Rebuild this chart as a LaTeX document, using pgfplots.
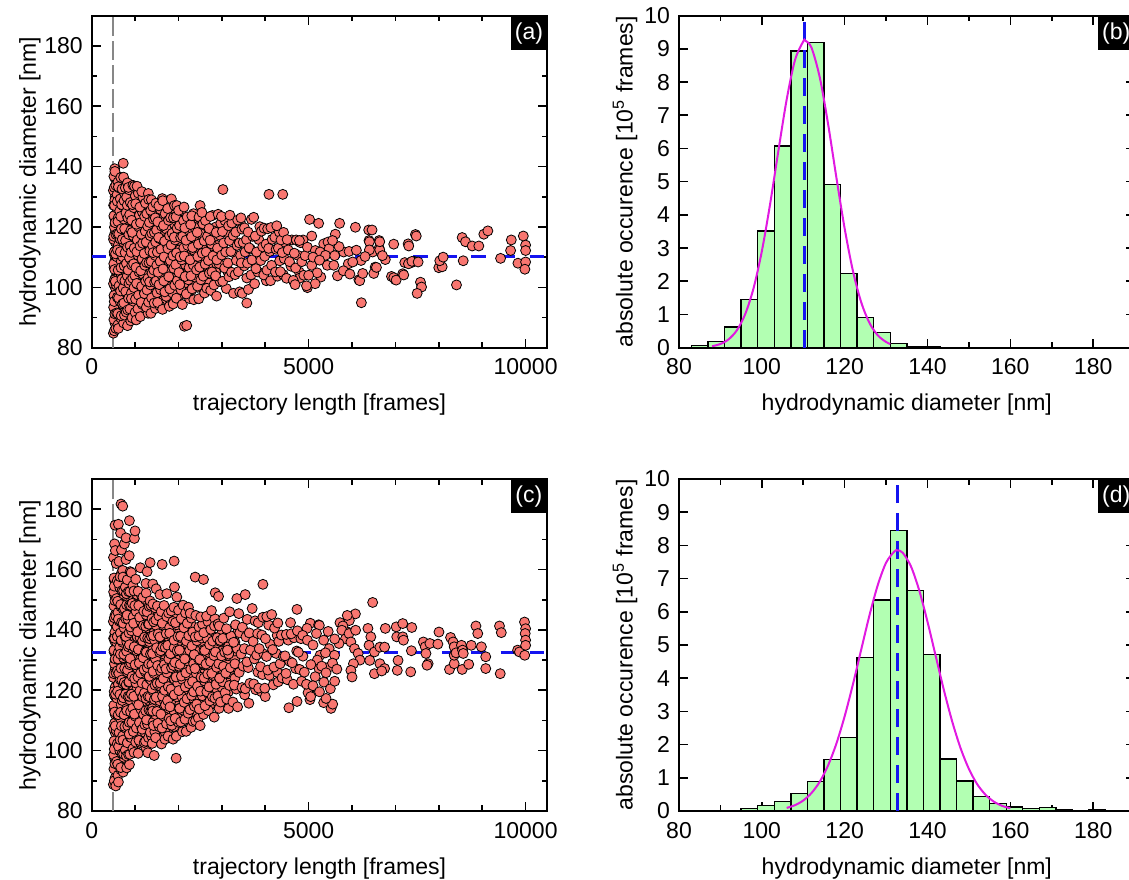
\documentclass[border=0pt]{standalone}
\usepackage{fontspec}
\setmainfont{Liberation Sans}
\usepackage{pgfplots}
\pgfplotsset{compat=1.18}

\definecolor{ptfill}{RGB}{248,118,112}
\definecolor{hgreen}{RGB}{178,255,178}
\definecolor{fitmag}{RGB}{225,25,225}
\definecolor{mblue}{RGB}{20,20,240}
\definecolor{vgray}{RGB}{135,135,135}

\tikzset{tag/.style={fill=black, text=white, anchor=north east, inner sep=0pt,
    minimum width=18pt, minimum height=17pt}}

\pgfplotsset{
  panel/.style={
    scale only axis, width=227.8pt, height=166pt, anchor=south west,
    axis line style={line width=1pt}, tick align=inside,
    every tick/.style={black, line width=0.8pt},
    major tick length=4.5pt, minor tick length=2.8pt,
    font=\fontsize{11.5}{13.8}\selectfont,
    /pgf/number format/assume math mode=true,
    /pgf/number format/1000 sep={},
    xticklabel style={yshift=-2pt}, yticklabel style={xshift=-1pt},
  },
  scat/.style={
    panel, xmin=0, xmax=10500, ymin=80, ymax=190,
    xtick={0,5000,10000}, minor x tick num=4, scaled x ticks=false,
    ytick={80,100,...,180}, minor y tick num=1,
    xlabel={trajectory length [frames]},
    ylabel={hydrodynamic diameter [nm]},
    xlabel style={at={(axis description cs:0.5,-0.1726)}, anchor=center},
    ylabel style={at={(axis description cs:-0.1354,0.5)}, anchor=center},
  },
  hist/.style={
    panel, xmin=80, xmax=190, ymin=0, ymax=10,
    xtick={80,100,...,180}, minor x tick num=1, ytick={0,1,...,10},
    xlabel={hydrodynamic diameter [nm]},
    ylabel={absolute occurence [10\textsuperscript{5} frames]},
    xlabel style={at={(axis description cs:0.5,-0.1726)}, anchor=center},
    ylabel style={at={(axis description cs:-0.1185,0.5)}, anchor=center},
  },
  pts/.style={only marks, mark=*, mark size=2.5pt,
    mark options={fill=ptfill, draw=black, line width=0.4pt}},
  bars/.style={ybar interval, fill=hgreen, draw=black, line width=0.7pt},
  meanline/.style={mblue, line width=1.4pt, dash pattern=on 7.3pt off 7.3pt},
  cutline/.style={vgray, line width=1pt, dash pattern=on 9.5pt off 2.5pt},
  fitline/.style={fitmag, line width=1pt, smooth},
}

\begin{document}
\begin{tikzpicture}

% ---------------- (a) ----------------
\begin{axis}[scat, at={(45.85pt,265.65pt)}]
% inner core (drawn underneath)
\addplot[pts] coordinates {
(540,88)(540,91)(540,94)(540,97)(540,100)(540,103)(540,106)(540,109)(540,112)(540,115)(540,118)(540,121)(540,124)(540,127)(540,130)(540,133)(540,136)
(610,89.5)(610,92.5)(610,95.5)(610,98.5)(610,101.5)(610,104.5)(610,107.5)(610,110.5)(610,113.5)(610,116.5)(610,119.5)(610,122.5)(610,125.5)(610,128.5)(610,131.5)(610,134.5)
(680,90)(680,93)(680,96)(680,99)(680,102)(680,105)(680,108)(680,111)(680,114)(680,117)(680,120)(680,123)(680,126)(680,129)(680,132)(680,135)
(760,90.5)(760,93.5)(760,96.5)(760,99.5)(760,102.5)(760,105.5)(760,108.5)(760,111.5)(760,114.5)(760,117.5)(760,120.5)(760,123.5)(760,126.5)(760,129.5)(760,132.5)
(840,91)(840,94)(840,97)(840,100)(840,103)(840,106)(840,109)(840,112)(840,115)(840,118)(840,121)(840,124)(840,127)(840,130)(840,133)
(930,92)(930,95)(930,98)(930,101)(930,104)(930,107)(930,110)(930,113)(930,116)(930,119)(930,122)(930,125)(930,128)(930,131)
(1030,92.5)(1030,95.5)(1030,98.5)(1030,101.5)(1030,104.5)(1030,107.5)(1030,110.5)(1030,113.5)(1030,116.5)(1030,119.5)(1030,122.5)(1030,125.5)(1030,128.5)(1030,131.5)
(1130,93)(1130,96)(1130,99)(1130,102)(1130,105)(1130,108)(1130,111)(1130,114)(1130,117)(1130,120)(1130,123)(1130,126)(1130,129)
(1230,94)(1230,97)(1230,100)(1230,103)(1230,106)(1230,109)(1230,112)(1230,115)(1230,118)(1230,121)(1230,124)(1230,127)
(1330,94.5)(1330,97.5)(1330,100.5)(1330,103.5)(1330,106.5)(1330,109.5)(1330,112.5)(1330,115.5)(1330,118.5)(1330,121.5)(1330,124.5)(1330,127.5)
(1430,95)(1430,98)(1430,101)(1430,104)(1430,107)(1430,110)(1430,113)(1430,116)(1430,119)(1430,122)(1430,125)
(1540,95.5)(1540,98.5)(1540,101.5)(1540,104.5)(1540,107.5)(1540,110.5)(1540,113.5)(1540,116.5)(1540,119.5)(1540,122.5)(1540,125.5)
(1660,96)(1660,99)(1660,102)(1660,105)(1660,108)(1660,111)(1660,114)(1660,117)(1660,120)(1660,123)(1660,126)
(1780,96.5)(1780,99.5)(1780,102.5)(1780,105.5)(1780,108.5)(1780,111.5)(1780,114.5)(1780,117.5)(1780,120.5)(1780,123.5)(1780,126)
(1900,97)(1900,100)(1900,103)(1900,106)(1900,109)(1900,112)(1900,115)(1900,118)(1900,121)(1900,124)
(2030,97.5)(2030,100.5)(2030,103.5)(2030,106.5)(2030,109.5)(2030,112.5)(2030,115.5)(2030,118.5)(2030,121.5)(2030,124)
(2160,98.5)(2160,101.5)(2160,104.5)(2160,107.5)(2160,110.5)(2160,113.5)(2160,116.5)(2160,119.5)(2160,122.5)
(2300,99)(2300,102)(2300,105)(2300,108)(2300,111)(2300,114)(2300,117)(2300,120)(2300,122.5)
(2440,100)(2440,103)(2440,106)(2440,109)(2440,112)(2440,115)(2440,118)(2440,121)
(2580,101)(2580,104)(2580,107)(2580,110)(2580,113)(2580,116)(2580,119)(2580,121.5)
(2720,101.5)(2720,104.5)(2720,107.5)(2720,110.5)(2720,113.5)(2720,116.5)(2720,119.5)
(2860,102)(2860,105)(2860,108)(2860,111)(2860,114)(2860,117)(2860,120)
};
\addplot[pts] coordinates {
(500,84.8)(521,85.6)(512,89.3)(530,92.6)(506,93.4)(521,96.8)(515,97.3)(503,101.2)(527,102.5)(515,106.6)(509,107.8)(524,110.8)(518,111.7)(503,115.9)(509,116.9)(524,119.9)(518,123.3)(512,123.7)(506,127.2)(533,128.9)(500,132.1)(521,133.1)(512,136.8)(530,139.3)
(555,86.4)(605,87.6)(535,91.2)(575,91.5)(520,95.3)(590,96.7)(565,100.8)(545,102)(600,105)(530,105.9)(580,110.1)(550,111.1)(615,114)(560,117.5)(595,117.8)(540,121.4)(610,123)(570,126.3)(525,127.1)(585,130.7)(555,133.8)(605,134.9)(535,138.4)
(615,86.4)(670,89.8)(600,91.3)(650,95.4)(620,96.5)(685,99.6)(630,100.5)(665,104.7)(610,105.7)(680,108.6)(640,112.1)(595,112.4)(655,116)(625,117.7)(675,120.9)(605,121.8)(645,125.3)(590,128.5)(660,129.3)(635,132.9)(615,133.3)(670,136.4)
(735,88.2)(680,90.6)(750,93.7)(710,94.5)(665,98.8)(725,99.8)(695,102.7)(745,106.2)(675,106.5)(715,110.1)(660,111.8)(730,115)(705,115.9)(685,119.4)(740,122.6)(670,123.5)(720,127)(690,127.4)(755,131.2)(700,132.6)(735,136.5)(727,141.1)
(825,87.3)(755,90.8)(795,91.8)(740,94.8)(810,98.2)(785,98.6)(765,102.2)(820,103.8)(750,107.1)(800,107.9)(770,111.5)(835,114.7)(780,115.5)(815,119.1)(760,119.4)(830,123.2)(790,124.7)(745,128.7)(805,129.9)(775,133)(825,134.6)
(900,88.9)(830,92.5)(880,92.8)(850,96.4)(915,98.1)(860,101.3)(895,102.2)(840,105.7)(910,108.9)(870,109.8)(825,113.3)(885,113.7)(855,117.5)(905,118.9)(835,123)(875,124.1)(820,127.2)(890,128.1)(865,132.3)(845,133.1)
(930,89.9)(1000,91.7)(960,95.4)(915,96.3)(975,99.9)(945,103)(995,103.9)(925,107.4)(965,107.8)(910,111.6)(980,113)(955,117.1)(935,118.2)(990,121.3)(920,122.2)(970,126.4)(940,127.4)(1005,130.3)(950,133.8)(985,133.5)
(1025,89.2)(1065,92.9)(1010,96.1)(1080,97.4)(1055,101)(1035,101.3)(1090,105.1)(1020,106.6)(1070,110.6)(1040,111.8)(1105,114.8)(1050,115.7)(1085,120)(1030,120.9)(1100,123.9)(1060,127.3)(1015,127.7)(1075,131.2)(1045,133.5)
(1120,90.3)(1170,94.3)(1140,95)(1205,98.8)(1150,100.3)(1185,104.3)(1130,105.5)(1200,108.6)(1160,109.4)(1115,113.7)(1175,114.6)(1145,117.6)(1195,121.1)(1125,121.4)(1165,125)(1110,126.6)(1180,129.9)(1155,131.7)
(1300,91.4)(1260,93.4)(1215,97.9)(1275,99.1)(1245,102.1)(1295,103)(1225,107.3)(1265,108.2)(1210,111.2)(1280,114.7)(1255,115)(1235,118.6)(1290,120.2)(1220,123.5)(1270,124.4)(1240,127.9)(1305,131.1)
(1365,91.4)(1310,95.1)(1380,96.5)(1355,100.8)(1335,101.8)(1390,104.7)(1320,108.2)(1370,108.6)(1340,112.1)(1405,113.8)(1350,117.1)(1385,117.9)(1330,121.5)(1400,124.6)(1360,125.5)(1315,129.1)(1375,129)
(1470,93)(1440,94.8)(1505,98.2)(1450,101.7)(1485,102.1)(1430,105.7)(1500,107.3)(1460,110.6)(1415,111.5)(1475,115)(1445,118.2)(1495,119)(1425,122.6)(1465,123)(1410,126.7)(1480,127.9)
(1572,93.8)(1518,95)(1590,99.2)(1554,100.9)(1614,104.1)(1530,105)(1578,108.6)(1512,111.7)(1596,112.6)(1566,116.1)(1542,116.5)(1608,120.3)(1524,121.7)(1584,125.8)(1548,127)(1626,129.4)
(1632,92.7)(1716,97)(1686,98.5)(1662,102.1)(1728,105.3)(1644,106.1)(1704,109.7)(1668,110.1)(1746,113.8)(1680,115.3)(1722,119.3)(1656,120.5)(1740,123.6)(1692,124.4)(1638,128.7)
(1788,93.7)(1866,98.1)(1800,99.5)(1842,103.1)(1776,103.5)(1860,107.3)(1812,108.8)(1758,112.8)(1830,114)(1794,117.1)(1854,117.9)(1770,122.2)(1818,123.1)(1752,126.1)(1836,129.3)
(1878,94.5)(1950,96.4)(1914,100.7)(1974,102.2)(1890,106.3)(1938,107.5)(1872,110.5)(1956,111.4)(1926,115.7)(1902,116.6)(1968,119.6)(1884,123.1)(1944,123.4)(1908,127.1)(1963,127.1)
(2089,94.3)(2057,99.2)(2030,100.9)(2102,104)(2011,104.9)(2076,109.1)(2037,110.1)(2122,113.1)(2050,116.5)(2096,116.9)(2024,120.5)(2115,122.1)(2063,125.4)(2004,125.5)
(2136,87.1)(2190,87.4)
(2252,96.3)(2180,97.8)(2226,102.5)(2154,103.6)(2245,106.5)(2193,110)(2134,110.4)(2213,113.9)(2173,115.6)(2239,118.9)(2147,119.7)(2200,123.3)(2128,126.6)
(2353,95.9)(2313,99.5)(2379,103.4)(2287,103.8)(2340,107.4)(2268,109.1)(2359,112.3)(2327,113.2)(2300,116.8)(2372,119.9)(2281,120.8)(2346,124.4)(2307,123.7)
(2467,96.2)(2439,100.4)(2516,102.5)(2418,105.8)(2488,106.7)(2446,110.2)(2537,113.4)(2460,114.3)(2509,117.8)(2432,118.2)(2530,122)(2474,123.3)(2498,127.1)
(2600,98.1)(2652,99.7)(2570,103.7)(2675,106.9)(2615,107.7)(2548,111.3)(2638,111.7)(2592,115.4)(2668,116.9)(2562,121)(2622,122.1)(2540,124.8)
(2742,99)(2818,100.8)(2712,104.7)(2772,105.1)(2690,108.9)(2795,110.4)(2758,114.4)(2728,115.6)(2810,118.7)(2705,119.5)(2780,123.8)(2735,123.5)
(2878,97.1)(2960,101.9)(2855,103.8)(2930,107.9)(2885,109.1)(2982,112.1)(2900,113)(2952,117.3)(2870,118.2)(2975,121.2)(2915,124.2)
(3102,99.6)(3020,102)(3125,105.5)(3065,106.4)(2998,110.7)(3088,111.7)(3042,114.7)(3118,118.1)(3012,118.5)(3072,122.1)(2990,123.5)(3024,132.4)
(3268,98)(3162,103.5)(3222,105)(3140,108.1)(3245,111.6)(3208,111.9)(3178,115.5)(3260,117.2)(3155,120.4)(3230,121.3)(3185,123.9)
(3410,98.5)(3305,104.2)(3380,105.2)(3335,108.9)(3432,110.6)(3350,113.9)(3402,114.7)(3320,118.3)(3425,121.5)(3365,122.3)
(3470,98)(3575,103.1)(3515,107.1)(3448,108.1)(3538,111.7)(3492,114.9)(3568,115.8)(3462,119.3)(3522,119.7)(3440,123)(3575,94.8)
(3612,99.3)(3672,104.1)(3590,108)(3695,109.1)(3658,112.7)(3628,113.1)(3710,116.9)(3605,118.3)(3680,122.5)
(3755,101.2)(3830,105.1)(3785,106.2)(3882,110.2)(3800,111.7)(3852,115.8)(3770,117)(3875,120.1)(3734,123.2)
(4025,102.2)(3965,104.1)(3898,108.9)(3988,110.3)(3942,113.4)(4018,114.3)(3912,118.6)(3972,119.6)
(4122,102.2)(4040,105.7)(4145,107.3)(4108,111.9)(4078,112.9)(4160,115.9)(4055,119.4)(4130,119.8)(4085,130.8)
(4280,103.7)(4235,105.1)(4332,108.8)(4250,112.6)(4302,113)(4220,116.6)(4325,118.3)(4265,120.4)
(4415,104.2)(4348,105.2)(4438,109.5)(4392,111.5)(4468,114.8)(4362,115.7)(4422,118.2)(4403,130.8)
(4490,103)(4595,107)(4558,108.5)(4528,112.4)(4610,115.7)(4505,115.8)
(4685,101.2)(4782,105.1)(4700,106.4)(4752,110.6)(4670,111.3)(4775,115.2)(4715,115.7)
(4798,103.1)(4888,104)(4842,108.5)(4918,110.5)(4812,114.8)(4872,115.7)
(5021,122.5)(5230,121.2)(5714,121.2)(6077,119.9)(6384,119)(6461,119)(5615,117.6)(6625,115.5)(6391,115.5)(6625,113)(6207,108.9)(6474,111.7)(6533,106.7)(6767,109.2)(6961,114.3)(6909,103.6)(6992,102.6)(7168,104.5)(6215,94.9)(6157,102.5)(5664,103.8)(5280,103.4)(4971,99.9)(5071,107.3)(5196,104.8)(5430,107.3)(5580,107.3)(5915,107.8)(5806,111.7)(5931,111.9)(6015,108.4)(7293,114.4)(7461,117.5)(7480,117)(7435,108.6)(7352,108.1)(7577,101.7)(7602,100.1)(7500,98)(7999,106.5)(8077,106.8)(8022,108.8)(8100,110)(8407,100.8)(8562,108.8)(8538,116.5)(8615,115.1)(8769,113.7)(8922,113.7)(9037,117.6)(9130,118.7)(9423,109.6)(9670,115.7)(9654,112.2)(9947,117)(10000,114)(10000,112.2)(9823,108)(10000,108.4)(9983,106)(7307,113.7)(7215,108.2)(7300,107.8)(7380,108.6)(7523,108.4)(6961,103.2)(7016,102.4)(7192,104.1)(6177,102.2)(6246,104.6)(6500,104.6)(6562,106.6)(6638,112.4)(6638,115.1)(6400,115.1)(6400,112.4)(5071,117)(4787,115.5)(4971,113.3)(5154,112.2)(5347,114.4)(5447,115)(5472,112.8)(5263,111.7)(5388,110.6)(5100,110)(5250,109)(5600,110.5)(5700,113.5)(5550,115.5)(6100,112.3)(6300,110.2)(5800,105.5)(5950,104.4)(6700,110.5)(5000,104)(5150,101.2)(4950,100.5)(4645,102.3)(4687,100.9)
};
\addplot[cutline] coordinates {(500,80) (500,190)};
\addplot[meanline] coordinates {(0,110.2) (10500,110.2)};
\node[tag] at (rel axis cs:1,1) {(a)};
\end{axis}

% ---------------- (b) ----------------
\begin{axis}[hist, at={(339.5pt,265.65pt)}]
\addplot[bars] coordinates {(83,0.07) (87,0.19) (91,0.62) (95,1.46) (99,3.52) (103,6.08) (107,8.94) (111,9.19) (115,4.92) (119,2.24) (123,0.91) (127,0.46) (131,0.12) (135,0.04) (139,0.02) (143,0.02)};
\addplot[meanline, dash pattern=on 9pt off 5pt] coordinates {(110.3,0) (110.3,10)};
\addplot[fitline] coordinates {(88,0.045) (90,0.112) (92,0.254) (94,0.530) (96,1.017) (98,1.793) (100,2.906) (102,4.331) (104,5.936) (106,7.478) (108,8.663) (110,9.226) (110.5,9.25) (112,9.034) (114,8.134) (116,6.732) (118,5.124) (120,3.585) (122,2.307) (124,1.364) (126,0.742) (128,0.371) (130,0.171) (131,0.112)};
\node[tag] at (rel axis cs:1,1) {(b)};
\end{axis}

% ---------------- (c) ----------------
\begin{axis}[scat, at={(45.85pt,34pt)}]
% inner core (drawn underneath)
\addplot[pts] coordinates {
(540,91)(540,94)(540,97)(540,100)(540,103)(540,106)(540,109)(540,112)(540,115)(540,118)(540,121)(540,124)(540,127)(540,130)(540,133)(540,136)(540,139)(540,142)(540,145)(540,148)(540,151)(540,154)(540,157)
(610,92.5)(610,95.5)(610,98.5)(610,101.5)(610,104.5)(610,107.5)(610,110.5)(610,113.5)(610,116.5)(610,119.5)(610,122.5)(610,125.5)(610,128.5)(610,131.5)(610,134.5)(610,137.5)(610,140.5)(610,143.5)(610,146.5)(610,149.5)(610,152.5)(610,155.5)
(680,94)(680,97)(680,100)(680,103)(680,106)(680,109)(680,112)(680,115)(680,118)(680,121)(680,124)(680,127)(680,130)(680,133)(680,136)(680,139)(680,142)(680,145)(680,148)(680,151)(680,154)(680,157)
(760,97.5)(760,100.5)(760,103.5)(760,106.5)(760,109.5)(760,112.5)(760,115.5)(760,118.5)(760,121.5)(760,124.5)(760,127.5)(760,130.5)(760,133.5)(760,136.5)(760,139.5)(760,142.5)(760,145.5)(760,148.5)(760,151.5)(760,154.5)
(840,99)(840,102)(840,105)(840,108)(840,111)(840,114)(840,117)(840,120)(840,123)(840,126)(840,129)(840,132)(840,135)(840,138)(840,141)(840,144)(840,147)(840,150)(840,153)
(930,100.5)(930,103.5)(930,106.5)(930,109.5)(930,112.5)(930,115.5)(930,118.5)(930,121.5)(930,124.5)(930,127.5)(930,130.5)(930,133.5)(930,136.5)(930,139.5)(930,142.5)(930,145.5)(930,148.5)(930,151.5)
(1030,102)(1030,105)(1030,108)(1030,111)(1030,114)(1030,117)(1030,120)(1030,123)(1030,126)(1030,129)(1030,132)(1030,135)(1030,138)(1030,141)(1030,144)(1030,147)(1030,150)
(1130,103.5)(1130,106.5)(1130,109.5)(1130,112.5)(1130,115.5)(1130,118.5)(1130,121.5)(1130,124.5)(1130,127.5)(1130,130.5)(1130,133.5)(1130,136.5)(1130,139.5)(1130,142.5)(1130,145.5)(1130,148.5)
(1230,103)(1230,106)(1230,109)(1230,112)(1230,115)(1230,118)(1230,121)(1230,124)(1230,127)(1230,130)(1230,133)(1230,136)(1230,139)(1230,142)(1230,145)(1230,148)
(1330,104.5)(1330,107.5)(1330,110.5)(1330,113.5)(1330,116.5)(1330,119.5)(1330,122.5)(1330,125.5)(1330,128.5)(1330,131.5)(1330,134.5)(1330,137.5)(1330,140.5)(1330,143.5)(1330,146.5)
(1430,106)(1430,109)(1430,112)(1430,115)(1430,118)(1430,121)(1430,124)(1430,127)(1430,130)(1430,133)(1430,136)(1430,139)(1430,142)(1430,145)
(1540,106.5)(1540,109.5)(1540,112.5)(1540,115.5)(1540,118.5)(1540,121.5)(1540,124.5)(1540,127.5)(1540,130.5)(1540,133.5)(1540,136.5)(1540,139.5)(1540,142.5)(1540,145.5)
(1660,105)(1660,108)(1660,111)(1660,114)(1660,117)(1660,120)(1660,123)(1660,126)(1660,129)(1660,132)(1660,135)(1660,138)(1660,141)(1660,144)
(1780,107.5)(1780,110.5)(1780,113.5)(1780,116.5)(1780,119.5)(1780,122.5)(1780,125.5)(1780,128.5)(1780,131.5)(1780,134.5)(1780,137.5)(1780,140.5)(1780,143.5)
(1900,108)(1900,111)(1900,114)(1900,117)(1900,120)(1900,123)(1900,126)(1900,129)(1900,132)(1900,135)(1900,138)(1900,141)(1900,144)
(2030,109.5)(2030,112.5)(2030,115.5)(2030,118.5)(2030,121.5)(2030,124.5)(2030,127.5)(2030,130.5)(2030,133.5)(2030,136.5)(2030,139.5)(2030,142.5)
(2160,110)(2160,113)(2160,116)(2160,119)(2160,122)(2160,125)(2160,128)(2160,131)(2160,134)(2160,137)(2160,140)(2160,143)
(2300,111.5)(2300,114.5)(2300,117.5)(2300,120.5)(2300,123.5)(2300,126.5)(2300,129.5)(2300,132.5)(2300,135.5)(2300,138.5)(2300,141.5)
(2440,112)(2440,115)(2440,118)(2440,121)(2440,124)(2440,127)(2440,130)(2440,133)(2440,136)(2440,139)
(2580,113.5)(2580,116.5)(2580,119.5)(2580,122.5)(2580,125.5)(2580,128.5)(2580,131.5)(2580,134.5)(2580,137.5)(2580,140.5)
(2720,115)(2720,118)(2720,121)(2720,124)(2720,127)(2720,130)(2720,133)(2720,136)(2720,139)
(2860,116.5)(2860,119.5)(2860,122.5)(2860,125.5)(2860,128.5)(2860,131.5)(2860,134.5)(2860,137.5)
(3000,118)(3000,121)(3000,124)(3000,127)(3000,130)(3000,133)(3000,136)(3000,139)
(3150,119.5)(3150,122.5)(3150,125.5)(3150,128.5)(3150,131.5)(3150,134.5)(3150,137.5)
(3300,121)(3300,124)(3300,127)(3300,130)(3300,133)(3300,136)
};
\addplot[pts] coordinates {
(500,88.8)(521,90)(512,93.9)(530,97.4)(506,98.6)(521,102.5)(515,103.2)(503,107.3)(527,109.1)(515,113.5)(509,115)(524,118.4)(518,119.6)(503,124.2)(509,125.5)(524,128.8)(518,132.6)(512,133.3)(506,137.2)(533,139.2)(500,142.8)(521,144)(512,147.9)(530,151.4)(506,152.6)(521,156.5)(515,157.2)(503,164)(527,168.5)(538,174.7)
(555,88.3)(605,91.8)(535,95.7)(575,96.4)(520,100.5)(590,102.3)(565,106.7)(545,108.2)(600,111.6)(530,112.8)(580,117.4)(550,118.7)(615,122)(560,125.8)(595,126.5)(540,130.4)(610,132.4)(570,136)(525,137.2)(585,141.1)(555,144.6)(605,145.8)(535,149.7)(575,150.4)(520,154.5)(590,156.3)(565,162)(545,166.3)(615,175)
(615,89.6)(670,93.7)(600,95.5)(650,99.9)(620,101.4)(685,104.8)(630,106)(665,110.6)(610,111.9)(680,115.2)(640,119)(595,119.7)(655,123.6)(625,125.6)(675,129.2)(605,130.4)(645,134.3)(590,137.8)(660,139)(635,142.9)(615,143.6)(670,147.7)(600,149.5)(650,153.9)(620,155.4)(685,158.8)(630,162.7)(665,172.1)
(725,92.9)(670,94.4)(740,97.8)(700,99)(655,103.6)(715,104.9)(685,108.2)(735,112)(665,112.7)(705,116.6)(650,118.6)(720,122.2)(695,123.4)(675,127.3)(730,130.8)(660,132)(710,135.9)(680,136.6)(745,140.7)(690,142.5)(725,146.9)(670,148.4)(740,151.8)(700,153)(655,157.6)(715,159.7)(685,166.5)(676,181.7)(715,181)
(805,94.3)(735,98.9)(775,100.2)(720,103.5)(790,107.3)(765,108)(745,111.9)(800,113.9)(730,117.5)(780,118.7)(750,122.6)(815,126.1)(760,127.3)(795,131.2)(740,131.9)(810,136)(770,137.8)(725,142.2)(785,143.7)(755,147.1)(805,148.3)(735,152.9)(775,154.2)(720,157.5)(790,163.3)(754,168.5)(792,170.5)
(870,95.4)(800,98.2)(850,98.7)(820,102.6)(885,104.6)(830,108.2)(865,109.4)(810,113.3)(880,116.8)(840,118)(795,121.9)(855,122.6)(825,126.7)(875,128.5)(805,132.9)(845,134.4)(790,137.8)(860,139)(835,143.6)(815,144.9)(870,148.2)(800,152)(850,152.7)(820,156.6)(885,159.3)(869,176.2)
(880,98.8)(950,100.7)(910,104.3)(865,105.5)(925,109.4)(895,112.9)(945,114.1)(875,118)(915,118.7)(860,122.8)(930,124.6)(905,129)(885,130.5)(940,133.9)(870,135.1)(920,139.7)(890,141)(955,144.3)(900,148.1)(935,148.8)(880,152.7)(950,154.7)(910,159)(865,164.6)
(975,99.4)(1015,102.8)(960,106.3)(1030,107.5)(1005,111.4)(985,112.1)(1040,116.2)(970,118)(1020,122.4)(990,123.9)(1055,127.3)(1000,128.5)(1035,133.1)(980,134.4)(1050,137.7)(1010,141.5)(965,142.2)(1025,146.1)(995,148.1)(1045,151.7)(975,152.9)(1015,156.8)(984,170.3)(999,172.8)
(1070,99.1)(1120,102.7)(1090,103.4)(1155,107.5)(1100,109.3)(1135,113.7)(1080,115.2)(1150,118.6)(1110,119.8)(1065,124.4)(1125,125.7)(1095,129)(1145,132.8)(1075,133.5)(1115,137.4)(1060,139.4)(1130,143)(1105,144.2)(1085,148.1)(1140,151.6)(1070,152.8)(1120,160.6)
(1250,101)(1210,102.7)(1165,107.1)(1225,108.6)(1195,112)(1245,113.2)(1175,117.8)(1215,119.1)(1160,122.4)(1230,126.2)(1205,126.9)(1185,130.8)(1240,132.8)(1170,136.4)(1220,137.6)(1190,141.5)(1255,145)(1200,146.2)(1235,150.1)(1180,150.8)(1250,155.4)
(1295,99.3)(1240,103.1)(1310,104.3)(1285,108.9)(1265,110.2)(1320,113.5)(1250,117.3)(1300,118)(1270,121.9)(1335,123.9)(1280,127.5)(1315,128.7)(1260,132.6)(1330,136.1)(1290,137.3)(1245,141.2)(1305,141.9)(1275,146)(1325,147.8)(1255,152.2)(1277,159.3)
(1380,104.8)(1350,106.1)(1415,109.4)(1360,113.2)(1395,113.9)(1340,117.8)(1410,119.8)(1370,123.4)(1325,124.6)(1385,128.5)(1355,132)(1405,133.2)(1335,137.1)(1375,137.8)(1320,141.9)(1390,143.7)(1365,148.1)(1345,149.6)(1346,162.3)
(1440,98.4)(1395,102.4)(1455,106.3)(1425,108.3)(1475,111.9)(1405,113.1)(1445,117)(1390,120.5)(1460,121.7)(1435,125.6)(1415,126.3)(1470,130.4)(1400,132.2)(1450,136.6)(1420,138.1)(1485,141.5)(1430,142.7)(1465,147.3)(1410,148.6)(1408,155.2)(1485,153.6)
(1472,104.3)(1556,107.9)(1526,109.1)(1502,113)(1568,116.5)(1484,117.7)(1544,121.6)(1508,122.3)(1586,126.4)(1520,128.2)(1562,132.6)(1496,134.1)(1580,137.5)(1532,138.7)(1478,143.3)(1550,144.6)(1514,147.9)(1574,151.7)
(1608,102.2)(1686,106.3)(1620,107.5)(1662,111.4)(1596,112.1)(1680,116.2)(1632,118)(1578,122.4)(1650,123.9)(1614,127.3)(1674,128.5)(1590,133.1)(1638,134.4)(1572,137.7)(1656,141.5)(1626,142.2)(1602,146.1)(1668,148.1)(1623,161.7)
(1688,103.8)(1760,104.8)(1724,108.9)(1784,110.7)(1700,115.1)(1748,116.6)(1682,120)(1766,121.2)(1736,125.8)(1712,127.1)(1778,130.4)(1694,134.2)(1754,134.9)(1718,138.8)(1796,140.8)(1730,144.4)(1772,145.6)(1731,152)
(1876,103.8)(1846,108.4)(1822,109.9)(1888,113.3)(1804,114.5)(1864,119.1)(1828,120.4)(1906,123.7)(1840,127.5)(1882,128.2)(1816,132.1)(1900,134.1)(1852,137.7)(1798,138.9)(1870,142.8)(1834,146.3)(1894,147.5)
(1946,97.5)(1950,104.8)(1996,109.4)(1924,110.7)(2015,114)(1963,117.8)(1904,118.5)(1983,122.4)(1943,124.4)(2009,128)(1917,129.2)(1970,133.1)(1898,136.6)(1989,137.8)(1957,141.7)(1930,142.4)(2002,146.5)(1962,150.9)(1908,154.2)(1900,162.8)
(2093,106.3)(2053,109.5)(2119,113.3)(2027,114)(2080,117.9)(2008,119.9)(2099,123.5)(2067,124.7)(2040,128.6)(2112,132.1)(2021,133.3)(2086,137.2)(2047,137.9)(2132,142)(2060,143.8)(2106,148.2)
(2177,106.4)(2150,110.4)(2222,112.4)(2131,116)(2196,117.2)(2157,121.1)(2242,124.6)(2170,125.8)(2216,129.7)(2144,130.4)(2235,134.5)(2183,136.3)(2124,140.7)(2203,142.2)(2163,145.6)(2229,147.5)
(2290,107.7)(2336,109.7)(2264,113.6)(2355,117.1)(2303,118.3)(2244,122.2)(2323,122.9)(2283,127)(2349,128.8)(2257,133.2)(2310,134.7)(2238,138.1)(2329,139.3)(2297,143.9)(2270,145.5)
(2393,109.9)(2459,110.8)(2367,114.7)(2420,115.4)(2348,119.5)(2439,121.3)(2407,125.7)(2380,127.2)(2452,130.6)(2361,131.8)(2426,136.4)(2387,137.7)(2472,141)(2400,144.8)(2385,157.5)
(2499,108.3)(2576,112)(2478,113.8)(2548,118.2)(2506,119.7)(2597,123.1)(2520,124.3)(2569,128.9)(2492,130.2)(2590,133.5)(2534,137.3)(2471,138)(2555,141.9)(2513,144.3)(2577,156.7)
(2689,113.3)(2612,114.9)(2710,118.3)(2654,119.5)(2591,124.1)(2675,125.4)(2633,128.7)(2703,132.5)(2605,133.2)(2661,137.1)(2584,139.1)(2682,142.7)(2647,144.6)
(2823,111.1)(2725,116.5)(2781,117.8)(2704,121.1)(2802,124.9)(2767,125.6)(2739,129.5)(2816,131.5)(2718,135.1)(2788,136.3)(2746,140.2)(2837,143.7)(2760,146.4)
(2936,114)(2838,117.4)(2908,118.1)(2866,122)(2957,124)(2880,127.6)(2929,128.8)(2852,132.7)(2950,136.2)(2894,137.4)(2831,141.3)(2915,142)(2846,152.3)(2923,151.1)
(2970,116.1)(3075,119.2)(3015,122.8)(2948,124)(3038,127.9)(2992,131.4)(3068,132.6)(2962,136.5)(3022,137.2)(2940,141.3)(3045,143.9)
(3154,114)(3112,117.1)(3172,121.6)(3090,125.7)(3195,127.5)(3158,132)(3128,133.3)(3210,138)(3105,140.4)(3180,146)
(3255,116.1)(3330,120.4)(3285,121.7)(3382,126.4)(3300,128.8)(3352,133.8)(3270,135.9)(3375,139.9)(3315,141.7)(3346,150.4)(3362,114.5)
(3525,118.5)(3465,120.9)(3398,125.9)(3488,128)(3442,132)(3518,133.8)(3412,139)(3472,140.9)(3390,145.4)(3538,151.7)
(3622,115.7)(3540,120.5)(3645,122.3)(3608,127.5)(3578,129.4)(3660,133.3)(3555,137.7)(3630,139)(3585,143.5)
(3780,120.2)(3735,122.1)(3832,126)(3750,130.4)(3802,131.7)(3720,136.2)(3825,138.8)(3765,143)(3698,147.1)
(3915,119.5)(3848,120.7)(3938,125.2)(3892,127.8)(3968,132)(3862,133.8)(3922,138.3)(3840,142.4)(3945,144.2)(3946,155.1)(4000,117.9)
(3990,120.7)(4095,124.9)(4058,126.7)(4028,131.2)(4110,135.3)(4005,137.1)(4080,141.6)(4035,144.4)
(4185,121.8)(4282,125.9)(4200,127.7)(4252,132.2)(4170,133.5)(4275,138.2)(4215,140.6)(4148,145.1)
(4298,122.8)(4388,124.1)(4342,128.8)(4418,131.2)(4312,136.2)(4372,138.3)(4290,142.3)
(4545,114.2)(4508,123.5)(4478,125.6)(4560,129.6)(4455,131.4)(4530,136.6)(4485,138.5)(4582,142.4)
(4732,116.3)(4650,122)(4702,127.2)(4620,129.1)(4725,133)(4665,137.4)(4598,138.7)(4731,146.8)
(4838,123)(4792,126.9)(4868,131.3)(4762,132.6)(4822,137.1)(4740,139.7)
(5038,142.2)(4962,140.5)(5230,141.7)(5012,120)(5030,116.9)(4986,119.2)(5346,115.9)(5515,114)(5554,115.4)(5400,117.3)(5046,117.9)(6077,145.3)(5938,143.1)(5900,139.3)(5850,137.1)(6475,149.1)(5890,144.8)(5722,142.4)(5789,141.3)(5246,141.5)(5180,138.8)(5346,136.6)(4862,138.2)(4971,136.6)(5472,133.8)(5263,131.6)(5388,132.4)(5597,131.6)(5764,139.9)(5931,138.8)(6082,139.9)(5973,136)(6057,133.8)(6140,132.2)(6182,130)(6032,128.8)(5973,126.6)(6000,124.4)(5238,127.2)(5472,127.7)(6366,140.5)(6433,137.7)(6391,134.9)(6516,132.7)(6408,129.9)(6516,125.5)(6642,134.3)(6750,134.3)(6767,140.5)(6642,128.8)(6750,127.2)(6683,126.4)(7018,141)(7030,137.7)(7168,142.1)(7168,137.7)(7185,136.6)(7060,129.9)(7043,126.6)(7377,140.8)(7368,133.1)(7352,126.1)(7644,136)(7686,134.4)(7703,132.2)(7753,128.8)(7728,128.3)(7794,135.5)(8003,139.3)(7978,135.3)(8271,137.5)(8329,136)(8354,134.4)(8246,126.9)(8354,128.8)(8354,131.6)(8396,132.4)(8521,134.9)(8546,133.3)(8563,132.2)(8538,126.9)(8689,128.6)(8747,134.9)(8855,141.3)(8897,138.8)(8981,134.4)(9081,131.1)(9081,127.2)(9398,141.3)(9440,139.1)(9415,125.5)(9816,133.3)(9858,132.7)(9975,142.6)(10000,140.4)(9990,138.8)(10000,136.6)(10000,134.9)(9980,131.6)
(5100,135)(5200,130)(5300,128)(5050,128.5)(5150,124.5)(5400,125.8)(5550,129)(5650,127)(5700,135.5)(5600,137)(5450,139.5)(5350,122.7)(4950,122)(5100,121.5)(5500,120.5)(5250,119.5)(4900,126)(5600,123)
};
\addplot[cutline] coordinates {(500,80) (500,190)};
\addplot[meanline] coordinates {(0,132.6) (10500,132.6)};
\node[tag] at (rel axis cs:1,1) {(c)};
\end{axis}

% ---------------- (d) ----------------
\begin{axis}[hist, at={(339.5pt,34pt)}]
\addplot[bars] coordinates {(87,0.01) (91,0.02) (95,0.07) (99,0.16) (103,0.28) (107,0.52) (111,0.89) (115,1.55) (119,2.21) (123,4.62) (127,6.36) (131,8.45) (135,6.65) (139,4.71) (143,1.57) (147,0.90) (151,0.43) (155,0.23) (159,0.12) (163,0.08) (167,0.10) (171,0.03) (175,0.02) (179,0.03) (183,0.03)};
\addplot[meanline, dash pattern=on 9pt off 5pt] coordinates {(132.8,0) (132.8,10)};
\addplot[fitline] coordinates {(106,0.093) (108,0.176) (110,0.317) (112,0.543) (114,0.885) (116,1.375) (118,2.031) (120,2.856) (122,3.821) (124,4.867) (126,5.901) (128,6.809) (130,7.480) (132,7.819) (132.8,7.85) (134,7.780) (136,7.369) (138,6.644) (140,5.700) (142,4.656) (144,3.619) (146,2.678) (148,1.886) (150,1.265) (152,0.806) (154,0.490) (156,0.283) (158,0.156) (160,0.082)};
\node[tag] at (rel axis cs:1,1) {(d)};
\end{axis}

\pgfresetboundingbox
\useasboundingbox (0,0) rectangle (564.5pt,439.5pt);
\end{tikzpicture}
\end{document}
